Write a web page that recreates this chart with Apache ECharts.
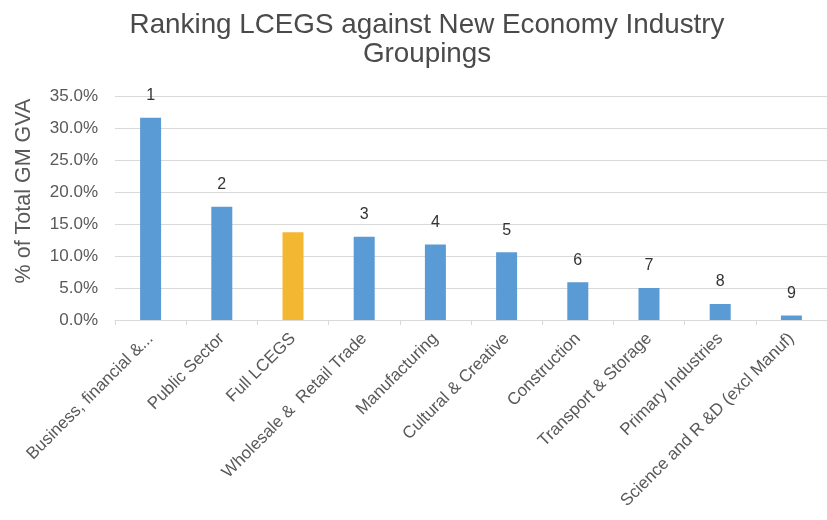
<!DOCTYPE html>
<html>
<head>
<meta charset="utf-8">
<script src="https://cdn.jsdelivr.net/npm/echarts@6/dist/echarts.min.js"></script>
<style>
  html, body { margin: 0; padding: 0; background: #ffffff; }
  #chart { width: 827px; height: 520px; }
</style>
</head>
<body>
<div id="chart"></div>
<script>
// Industry groupings, share of total GM GVA (%), and rank labels
const categories = [
  'Business, financial &...',
  'Public Sector',
  'Full LCEGS',
  'Wholesale &  Retail Trade',
  'Manufacturing',
  'Cultural & Creative',
  'Construction',
  'Transport & Storage',
  'Primary Industries',
  'Science and R &D (excl Manuf)'
];
const shareOfGVA = [31.6, 17.7, 13.7, 13.0, 11.8, 10.6, 5.9, 5.0, 2.5, 0.7];
const rankLabels = ['1', '2', '', '3', '4', '5', '6', '7', '8', '9'];
const highlightCategory = 'Full LCEGS';
const yTicks = { min: 0, max: 35, interval: 5 };

const BLUE = '#5B9BD5';
const GOLD = '#F4B731';
const FONT = '"Liberation Sans", Arial, Helvetica, sans-serif';

const chart = echarts.init(document.getElementById('chart'), null, { renderer: 'canvas' });

chart.setOption({
  backgroundColor: '#ffffff',
  animation: false,
  textStyle: { fontFamily: FONT },
  title: {
    text: 'Ranking LCEGS against New Economy Industry\nGroupings',
    left: 422,
    top: 6,
    textAlign: 'center',
    textStyle: {
      fontFamily: FONT,
      fontSize: 27.8,
      fontWeight: 'normal',
      color: '#4a4a4a',
      lineHeight: 29
    }
  },
  grid: { left: 115, top: 96, width: 715, height: 224, containLabel: false },
  xAxis: {
    type: 'category',
    data: categories,
    boundaryGap: true,
    axisLine: { show: true, lineStyle: { color: '#d9d9d9', width: 1 } },
    axisTick: { show: true, alignWithLabel: false, length: 5, lineStyle: { color: '#d9d9d9' } },
    axisLabel: {
      interval: 0,
      rotate: 45,
      margin: 16,
      fontFamily: FONT,
      fontSize: 17,
      color: '#595959'
    }
  },
  yAxis: {
    type: 'value',
    min: yTicks.min,
    max: yTicks.max,
    interval: yTicks.interval,
    name: '% of Total GM GVA',
    nameLocation: 'middle',
    nameRotate: 90,
    nameGap: 80,
    nameTextStyle: { fontFamily: FONT, fontSize: 21.5, color: '#595959', padding: [0, 0, 0, 34] },
    axisLine: { show: false },
    axisTick: { show: false },
    splitLine: { lineStyle: { color: '#d9d9d9', width: 1 } },
    axisLabel: {
      margin: 17,
      fontFamily: FONT,
      fontSize: 17,
      color: '#595959',
      formatter: v => v.toFixed(1) + '%'
    }
  },
  series: [{
    type: 'bar',
    barWidth: 21,
    data: shareOfGVA.map((v, i) => ({
      value: v,
      itemStyle: { color: categories[i] === highlightCategory ? GOLD : BLUE },
      label: {
        show: rankLabels[i] !== '',
        position: 'top',
        distance: 14,
        formatter: () => rankLabels[i],
        fontFamily: FONT,
        fontSize: 16,
        color: '#333333'
      }
    }))
  }]
});
</script>
</body>
</html>
